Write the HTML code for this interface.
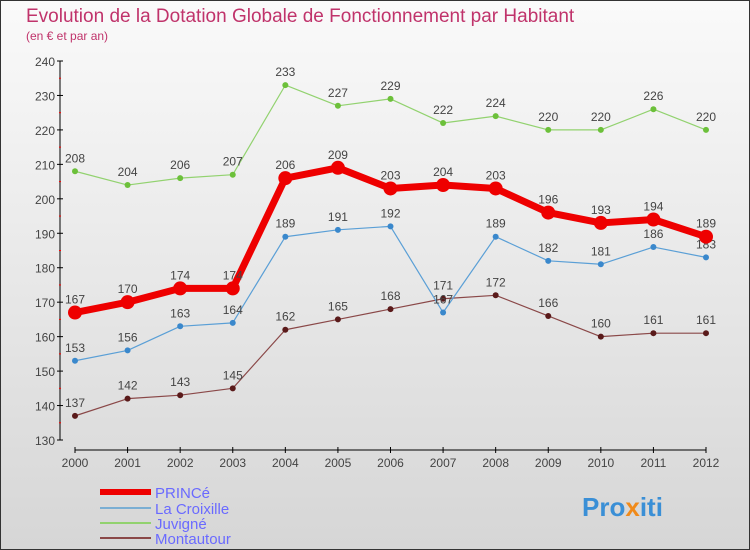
<!DOCTYPE html>
<html><head><meta charset="utf-8"><style>
body{margin:0;width:750px;height:550px;overflow:hidden;font-family:"Liberation Sans",sans-serif}
#c{position:absolute;left:0;top:0;width:748px;height:548px;border:1px solid #333;background:linear-gradient(#fafafa,#d6d6d6)}
</style></head><body>
<div id="c">
<svg id="s" width="750" height="550" style="position:absolute;left:-1px;top:-1px">
<text x="26" y="22" font-size="19" fill="#c0336b">Evolution de la Dotation Globale de Fonctionnement par Habitant</text>
<text x="26" y="40" font-size="12" fill="#c0336b">(en € et par an)</text>
<g id="ax"></g><g id="ser"></g>
<g>
<line x1="100" y1="492" x2="151" y2="492" stroke="#e00" stroke-width="6"/>
<line x1="100" y1="508" x2="151" y2="508" stroke="#7aaed3" stroke-width="2"/>
<line x1="100" y1="523" x2="151" y2="523" stroke="#92d26f" stroke-width="2"/>
<line x1="100" y1="538" x2="151" y2="538" stroke="#8a4848" stroke-width="2"/>
<text x="155" y="498" font-size="15" fill="#6a6aff">PRINCé</text>
<text x="155" y="514" font-size="15" fill="#6a6aff">La Croixille</text>
<text x="155" y="529" font-size="15" fill="#6a6aff">Juvigné</text>
<text x="155" y="544" font-size="15" fill="#6a6aff">Montautour</text>
</g>
<text x="582" y="516" font-size="26" font-weight="bold" fill="#3a8fd6">Pro<tspan fill="#f08a1a">x</tspan>iti</text>
</svg></div>
<script>
const years=[2000,2001,2002,2003,2004,2005,2006,2007,2008,2009,2010,2011,2012];
const yTicks=[130,140,150,160,170,180,190,200,210,220,230,240];
const princeVals=[167,170,174,174,206,209,203,204,203,196,193,194,189];
const croixVals=[153,156,163,164,189,191,192,167,189,182,181,186,183];
const juvVals=[208,204,206,207,233,227,229,222,224,220,220,226,220];
const montVals=[137,142,143,145,162,165,168,171,172,166,160,161,161];
const NS="http://www.w3.org/2000/svg";
const X=i=>75+i*(706-75)/(years.length-1);
const Y=v=>440-(v-130)*(440-61)/110;
function mk(t,a,p){const e=document.createElementNS(NS,t);for(const k in a)e.setAttribute(k,a[k]);p.appendChild(e);return e;}
const ax=document.getElementById('ax'),ser=document.getElementById('ser');
const ya=mk('line',{x1:60,y1:61,x2:60,y2:440,stroke:'#000'},ax);


yTicks.forEach(v=>{mk('line',{x1:57,x2:63,y1:Y(v),y2:Y(v),stroke:'#000'},ax);
 if(v<240)mk('line',{x1:59,x2:61,y1:Y(v+5),y2:Y(v+5),stroke:'#f00'},ax);
 const t=mk('text',{x:55,y:Y(v)+5,'font-size':12,'text-anchor':'end',fill:'#444'},ax);t.textContent=v;
 
 });
const xa=mk('line',{x1:75,y1:450,x2:706,y2:450,stroke:'#000'},ax);


years.forEach((y,i)=>{mk('line',{x1:X(i),x2:X(i),y1:447,y2:453,stroke:'#000'},ax);
 const t=mk('text',{x:X(i),y:467,'font-size':12,'text-anchor':'middle',fill:'#444'},ax);t.textContent=y;
 
 });
function series(vals,color,w,r,dot,name){
 const g=mk('g',{},ser);
 
 
 mk('polyline',{points:vals.map((v,i)=>X(i)+','+Y(v)).join(' '),fill:'none',stroke:color,'stroke-width':w,'stroke-linejoin':'round'},g);
 vals.forEach((v,i)=>{const c=mk('circle',{cx:X(i),cy:Y(v),r:r,fill:dot},g);
  
  
  const t=mk('text',{x:X(i),y:Y(v)-9,'font-size':12,'text-anchor':'middle',fill:'#444'},g);t.textContent=v;
  
  });
}
series(montVals,'#8a4848',1.2,3,'#5a1a1a','montautour-line');
series(juvVals,'#92d26f',1.2,3,'#6cc03a','juvigne-line');
series(croixVals,'#5a9fd6',1.2,3,'#3a88cc','la-croixille-line');
series(princeVals,'#e00',7,7,'#e00','prince-line');
</script>
</body></html>
